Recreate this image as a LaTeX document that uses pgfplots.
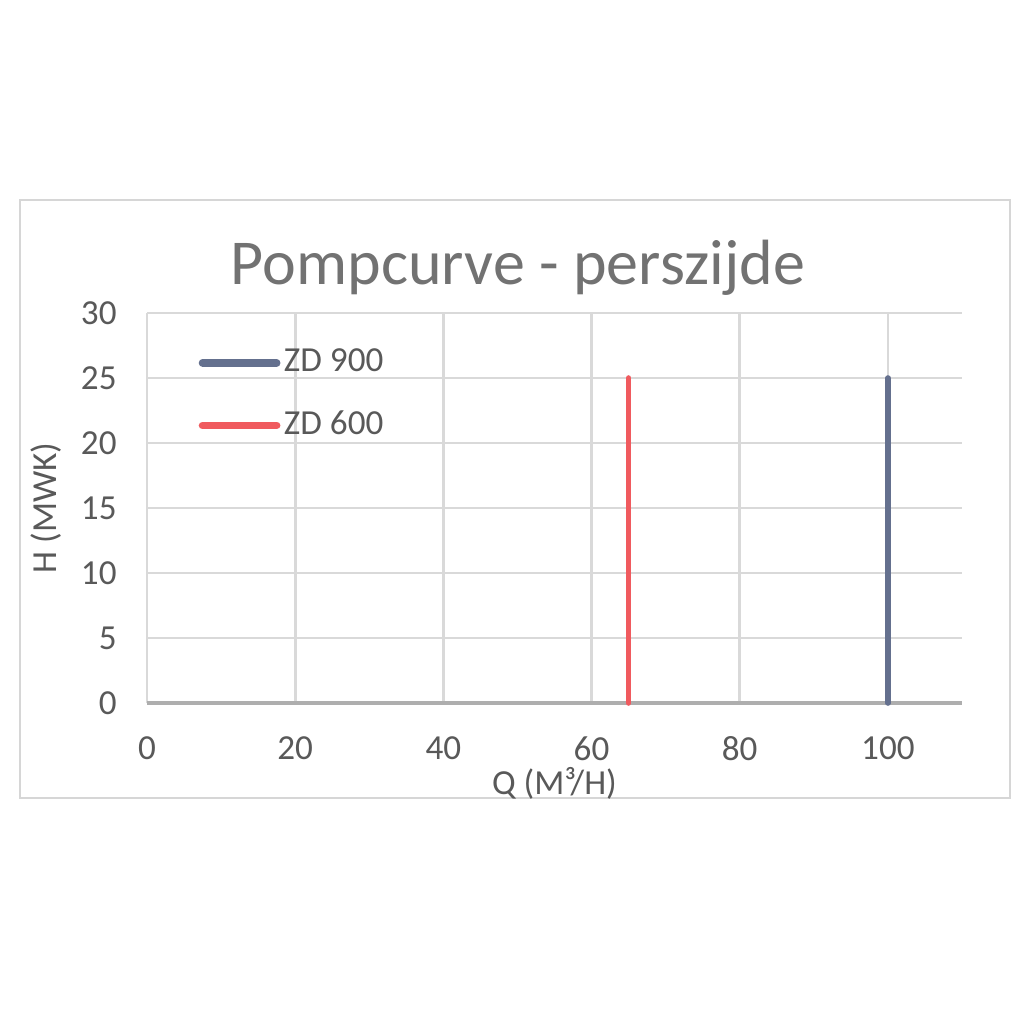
\documentclass[border=0pt]{standalone}
\usepackage{fontspec}
\setmainfont{Carlito}
\usepackage{pgfplots}
\pgfplotsset{compat=1.18}
\definecolor{zdblue}{RGB}{100,112,142}
\definecolor{zdred}{RGB}{240,90,94}
\definecolor{txtgray}{RGB}{89,89,89}
\definecolor{gridgray}{RGB}{217,217,217}
\definecolor{framegray}{RGB}{214,214,214}

\begin{document}
\begin{tikzpicture}
  % page = 1024 x 1024 px, 1px = 0.01cm
  \useasboundingbox[fill=white] (0,0) rectangle (10.24cm,10.24cm);
  \draw[framegray, line width=0.8pt] (0.20cm,2.26cm) rectangle (10.10cm,8.24cm);
  \node[txtgray!85, font=\fontsize{18.2}{22}\selectfont] at (5.18cm,7.56cm) {Pompcurve - perszijde};

  \begin{axis}[
      at={(1.47cm,3.21cm)}, anchor=south west,
      scale only axis,
      width=8.15cm, height=3.90cm,
      xmin=0, xmax=110, ymin=0, ymax=30,
      xtick={0,20,...,100}, ytick={0,5,...,30},
      grid=major,
      grid style={gridgray, line width=0.8pt},
      axis x line*=bottom, axis y line*=left,
      x axis line style={gridgray!80!black, line width=1pt, -},
      y axis line style={draw=none},
      major tick length=0pt,
      tick label style={txtgray, font=\fontsize{10}{12}\selectfont},
      /pgf/number format/assume math mode=true,
      xticklabel style={yshift=-0.21cm},
      yticklabel style={xshift=-0.18cm},
      xlabel={Q (M³/H)}, ylabel={H (MWK)},
      label style={txtgray, font=\fontsize{10}{12}\selectfont},
      xlabel style={yshift=0.17cm},
      ylabel style={yshift=-0.05cm},
      legend style={at={(0.0626,0.928)}, anchor=north west, draw=none, fill=none,
        inner sep=0pt, row sep=0.20cm, font=\fontsize{10}{12}\selectfont, text=txtgray,
        nodes={inner xsep=1pt}},
      legend cell align=left,
      legend image code/.code={\draw[#1, line width=2.2pt, line cap=round] (0cm,0cm) -- (0.74cm,0cm);},
      clip=false,
    ]
    \addplot[zdblue, line width=1.6pt, line cap=round] coordinates {(100,0) (100,25)};
    \addlegendentry{ZD 900}
    \addplot[zdred, line width=1.6pt, line cap=round] coordinates {(65,0) (65,25)};
    \addlegendentry{ZD 600}
  \end{axis}
\end{tikzpicture}
\end{document}
